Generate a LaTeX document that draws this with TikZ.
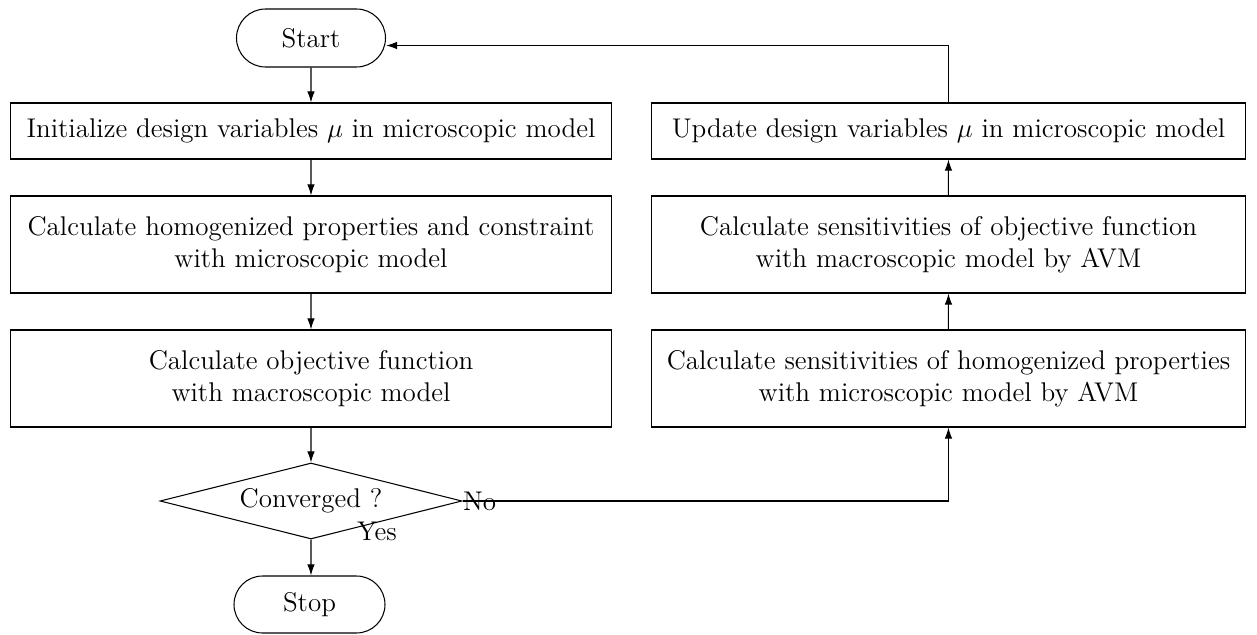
\documentclass[tikz,border=0pt]{standalone}
\usetikzlibrary{shapes.geometric,arrows.meta}

\begin{document}
\begin{tikzpicture}[scale=0.9355,
  font=\fontsize{14.4}{17}\selectfont, line width=0.56pt,
  box/.style={draw, rectangle, align=center, inner sep=0pt},
  decision/.style={draw, diamond, aspect=3.97, minimum width=5.65cm, minimum height=1.422cm, inner sep=0pt},
  arr/.style={-{Latex[length=2.06mm,width=1.4mm]}}
]
\useasboundingbox (0,0) rectangle (25.14,-12.7);

% left column
\node[draw, rounded corners=0.543cm, minimum width=2.788cm, minimum height=1.085cm, inner sep=0pt] (start) at (6.22,-0.76) {Start};
\node[box, minimum width=11.26cm, minimum height=1.048cm] (init) at (6.22,-2.62) {Initialize design variables $\mu$ in microscopic model};
\node[box, minimum width=11.26cm, minimum height=1.815cm] (homog) at (6.22,-4.89) {Calculate homogenized properties and constraint\\with microscopic model};
\node[box, minimum width=11.26cm, minimum height=1.815cm] (objf) at (6.22,-7.57) {Calculate objective function\\with macroscopic model};
\node[decision] (conv) at (6.22,-10.02) {Converged ?};
\node[draw, rounded corners=0.533cm, minimum width=2.825cm, minimum height=1.066cm, inner sep=0pt] (stop) at (6.19,-12.09) {Stop};

% right column
\node[box, minimum width=11.13cm, minimum height=1.048cm] (update) at (18.97,-2.62) {Update design variables $\mu$ in microscopic model};
\node[box, minimum width=11.13cm, minimum height=1.815cm] (sensobj) at (18.97,-4.89) {Calculate sensitivities of objective function\\with macroscopic model by AVM};
\node[box, minimum width=11.13cm, minimum height=1.815cm] (senshom) at (18.97,-7.57) {Calculate sensitivities of homogenized properties\\with microscopic model by AVM};

% labels
\node[anchor=west, inner sep=0pt] (no) at (conv.east) {No};
\node[inner sep=0pt] (yes) at (7.54,-10.62) {Yes};

% connectors
\draw[arr] (start) -- (init);
\draw[arr] (init) -- (homog);
\draw[arr] (homog) -- (objf);
\draw[arr] (objf) -- (conv);
\draw[arr] (conv) -- (stop.north -| conv.south);
\draw[arr] (conv.east) -| (senshom.south);
\draw[arr] (senshom) -- (sensobj);
\draw[arr] (sensobj) -- (update);
\draw[arr] (update.north) |- ([yshift=-0.15cm]start.east);

\end{tikzpicture}
\end{document}
